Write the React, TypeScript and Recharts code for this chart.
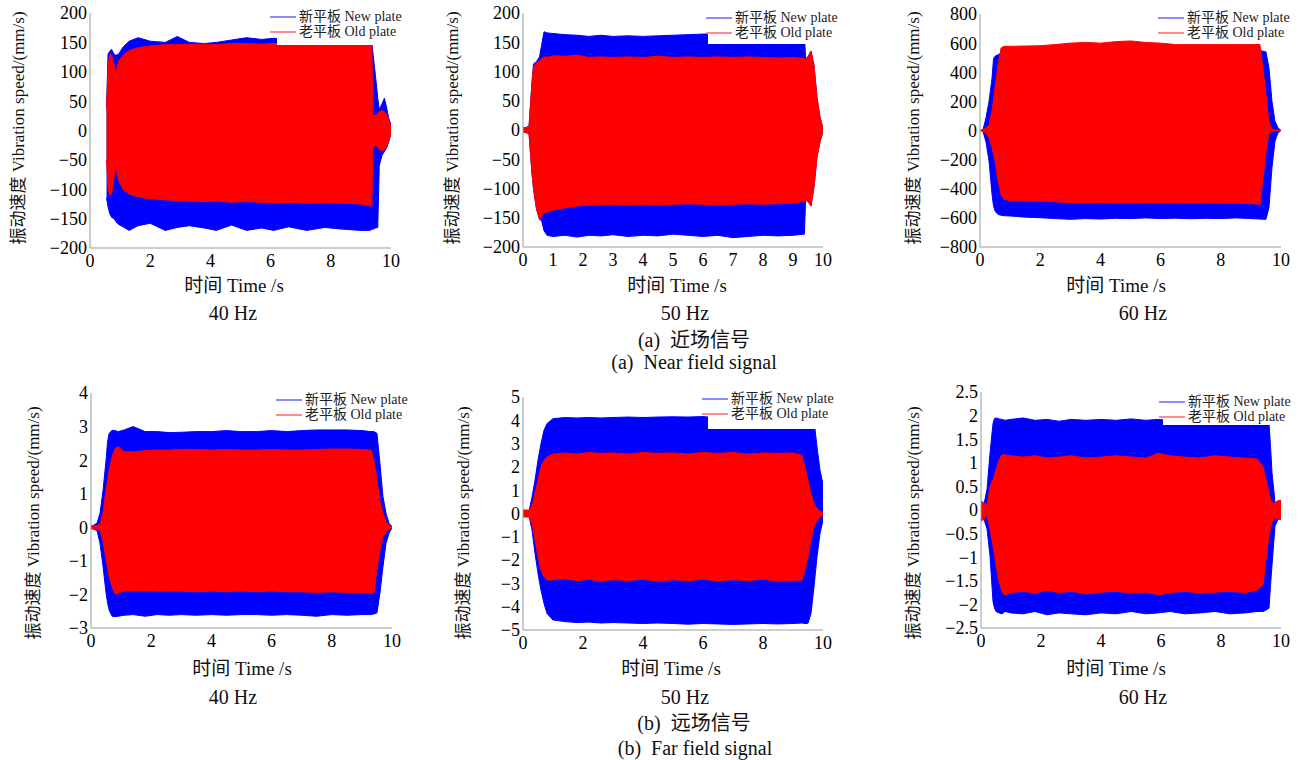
import { ComposedChart, Area, XAxis, YAxis } from "recharts";

const FONT = '"Liberation Serif", "Times New Roman", "Noto Sans CJK SC", serif';

// ---- (a) near field, 40 Hz ----
const near40T = [0.55, 0.6, 0.66, 0.72, 0.8, 0.86, 0.95, 1.1, 1.3, 1.6, 2.0, 2.5, 2.9, 3.3, 3.8, 4.2, 4.7, 5.2, 5.7, 6.1, 6.6, 7.2, 7.8, 8.4, 9.0, 9.3, 9.36, 9.4, 9.48, 9.56, 9.61, 9.7, 9.78, 9.85, 9.92, 10.0];
const near40NewHi = [40, 130, 135, 138, 130, 128, 130, 142, 152, 158, 152, 150, 160, 150, 148, 150, 154, 158, 155, 157, 155, 152, 155, 152, 155, 155, 150, 132, 95, 55, 36, 45, 55, 40, 22, 10];
const near40NewLo = [-115, -130, -142, -148, -150, -155, -160, -164, -170, -162, -158, -170, -165, -162, -166, -170, -161, -170, -166, -170, -164, -170, -165, -168, -170, -170, -168, -168, -166, -165, -60, -42, -36, -30, -20, -5];
const near40OldHi = [35, 110, 130, 128, 112, 99, 118, 128, 136, 141, 144, 146, 146, 147, 147, 146, 148, 148, 147, 148, 148, 148, 148, 148, 148, 148, 146, 25, 26, 28, 32, 34, 32, 28, 20, 5];
const near40OldLo = [-50, -100, -110, -108, -80, -60, -85, -100, -108, -113, -116, -118, -119, -120, -121, -120, -122, -121, -122, -123, -122, -124, -123, -124, -125, -128, -130, -30, -25, -28, -32, -35, -33, -28, -18, -5];

// ---- (a) near field, 50 Hz ----
const near50T = [0, 0.2, 0.3, 0.35, 0.45, 0.55, 0.62, 0.7, 0.8, 1.0, 1.4, 1.8, 2.2, 2.6, 3.0, 3.5, 4.0, 4.5, 5.0, 5.5, 6.0, 6.5, 7.0, 7.5, 8.0, 8.5, 9.0, 9.38, 9.42, 9.5, 9.6, 9.7, 9.8, 9.9, 10.0];
const near50NewHi = [3, 6, 82, 113, 117, 125, 145, 168, 166, 165, 163, 162, 160, 162, 160, 161, 160, 161, 162, 163, 164, 165, 165, 165, 165, 165, 165, 165, 122, 125, 135, 110, 55, 22, 2];
const near50NewLo = [-3, -6, -75, -100, -135, -153, -155, -172, -180, -182, -180, -183, -180, -181, -179, -182, -180, -181, -178, -180, -182, -180, -184, -182, -180, -181, -180, -178, -120, -122, -130, -97, -46, -20, -2];
const near50OldHi = [4, 5, 80, 108, 115, 118, 122, 125, 124, 127, 126, 128, 124, 125, 124, 125, 124, 126, 124, 125, 124, 125, 124, 125, 124, 123, 124, 122, 122, 125, 135, 110, 55, 22, 2];
const near50OldLo = [-4, -5, -74, -100, -135, -153, -148, -142, -140, -137, -133, -130, -128, -128, -127, -128, -127, -128, -127, -126, -127, -128, -127, -126, -127, -126, -125, -122, -120, -122, -130, -97, -46, -20, -2];

// ---- (a) near field, 60 Hz ----
const near60T = [0, 0.1, 0.2, 0.3, 0.4, 0.45, 0.5, 0.6, 0.7, 0.8, 1.0, 1.5, 2.0, 2.5, 3.0, 3.5, 4.0, 4.5, 5.0, 5.5, 6.0, 6.5, 7.0, 7.5, 8.0, 8.5, 9.0, 9.3, 9.4, 9.5, 9.6, 9.7, 9.8, 9.9, 10.0];
const near60NewHi = [0, 5, 87, 200, 361, 495, 510, 520, 530, 540, 550, 555, 560, 565, 565, 570, 570, 570, 570, 570, 570, 565, 560, 560, 560, 560, 560, 550, 545, 540, 430, 200, 64, 18, 0];
const near60NewLo = [0, -5, -80, -210, -439, -520, -553, -576, -582, -585, -587, -595, -599, -605, -610, -605, -608, -603, -605, -600, -605, -602, -606, -603, -605, -600, -605, -608, -610, -610, -530, -256, -73, -16, 0];
const near60OldHi = [0, 3, 20, 41, 133, 210, 293, 453, 567, 578, 578, 580, 582, 590, 600, 605, 600, 610, 615, 605, 600, 590, 590, 590, 590, 590, 590, 590, 430, 250, 60, 10, 5, 3, 0];
const near60OldLo = [0, -3, -20, -50, -120, -165, -210, -347, -439, -473, -480, -483, -485, -490, -495, -496, -494, -497, -498, -495, -496, -497, -498, -497, -499, -500, -502, -507, -330, -150, -20, -8, -5, -3, 0];

// ---- (b) far field, 40 Hz ----
const far40T = [0, 0.2, 0.3, 0.4, 0.5, 0.55, 0.6, 0.7, 0.8, 0.9, 1.1, 1.4, 1.8, 2.2, 2.6, 3.0, 3.5, 4.0, 4.5, 5.0, 5.5, 6.0, 6.5, 7.0, 7.5, 8.0, 8.5, 9.0, 9.3, 9.4, 9.5, 9.6, 9.7, 9.8, 9.9, 10.0];
const far40NewHi = [0.02, 0.12, 0.42, 1.1, 2.0, 2.54, 2.79, 2.89, 2.88, 2.85, 2.9, 3.0, 2.85, 2.85, 2.82, 2.83, 2.85, 2.85, 2.88, 2.85, 2.85, 2.88, 2.85, 2.88, 2.9, 2.9, 2.9, 2.88, 2.85, 2.85, 2.8, 1.9, 0.91, 0.42, 0.12, 0.02];
const far40NewLo = [-0.02, -0.1, -0.48, -1.17, -1.96, -2.25, -2.46, -2.65, -2.66, -2.65, -2.62, -2.6, -2.65, -2.6, -2.62, -2.6, -2.62, -2.6, -2.62, -2.6, -2.6, -2.62, -2.6, -2.62, -2.65, -2.6, -2.62, -2.6, -2.6, -2.58, -2.55, -1.96, -1.17, -0.48, -0.18, -0.02];
const far40OldHi = [0.05, 0.05, 0.1, 0.42, 1.1, 1.4, 1.7, 2.1, 2.35, 2.4, 2.25, 2.25, 2.28, 2.3, 2.3, 2.32, 2.32, 2.3, 2.32, 2.3, 2.3, 2.32, 2.3, 2.3, 2.32, 2.33, 2.33, 2.32, 2.3, 2.0, 1.4, 0.8, 0.42, 0.17, 0.05, 0.02];
const far40OldLo = [-0.05, -0.05, -0.1, -0.4, -0.97, -1.2, -1.47, -1.76, -2.0, -1.96, -1.9, -1.88, -1.88, -1.9, -1.9, -1.9, -1.92, -1.9, -1.92, -1.9, -1.92, -1.9, -1.92, -1.92, -1.94, -1.92, -1.94, -1.94, -1.96, -1.96, -1.27, -0.67, -0.28, -0.15, -0.05, -0.02];

// ---- (b) far field, 50 Hz ----
const far50T = [0, 0.2, 0.3, 0.4, 0.5, 0.6, 0.7, 0.8, 1.0, 1.4, 1.8, 2.2, 2.6, 3.0, 3.5, 4.0, 4.5, 5.0, 5.5, 6.0, 6.5, 7.0, 7.5, 8.0, 8.5, 9.0, 9.3, 9.4, 9.5, 9.6, 9.7, 9.8, 9.9, 10.0];
const far50NewHi = [0.1, 0.1, 0.7, 1.43, 2.29, 3.0, 3.57, 3.86, 4.07, 4.12, 4.1, 4.12, 4.1, 4.12, 4.14, 4.12, 4.14, 4.15, 4.14, 4.16, 4.1, 4.1, 4.1, 4.1, 4.1, 4.1, 4.1, 4.1, 4.1, 4.1, 4.0, 2.86, 1.86, 1.25];
const far50NewLo = [-0.1, -0.1, -0.71, -1.71, -2.57, -3.29, -3.86, -4.29, -4.57, -4.64, -4.68, -4.66, -4.7, -4.68, -4.7, -4.72, -4.7, -4.72, -4.75, -4.72, -4.74, -4.76, -4.74, -4.72, -4.74, -4.72, -4.7, -4.72, -4.71, -4.29, -3.14, -1.86, -0.86, -0.29];
const far50OldHi = [0.15, 0.15, 0.29, 0.86, 1.43, 2.0, 2.29, 2.43, 2.55, 2.6, 2.55, 2.62, 2.58, 2.6, 2.55, 2.62, 2.58, 2.6, 2.55, 2.62, 2.58, 2.62, 2.55, 2.6, 2.58, 2.6, 2.5, 2.0, 1.43, 0.86, 0.43, 0.21, 0.1, 0.05];
const far50OldLo = [-0.15, -0.15, -0.43, -1.14, -1.86, -2.43, -2.71, -2.86, -2.85, -2.8, -2.88, -2.82, -2.9, -2.84, -2.88, -2.82, -2.9, -2.84, -2.88, -2.82, -2.9, -2.84, -2.88, -2.82, -2.9, -2.86, -2.86, -2.43, -1.86, -1.14, -0.57, -0.29, -0.14, -0.05];

// ---- (b) far field, 60 Hz ----
const far60T = [0, 0.1, 0.2, 0.3, 0.4, 0.45, 0.5, 0.6, 0.7, 0.8, 1.0, 1.4, 1.8, 2.2, 2.6, 3.0, 3.5, 4.0, 4.5, 5.0, 5.5, 5.9, 6.3, 6.8, 7.3, 7.8, 8.3, 8.8, 9.2, 9.4, 9.5, 9.6, 9.65, 9.7, 9.8, 9.9, 10.0];
const far60NewHi = [0.1, 0.12, 0.44, 1.2, 1.83, 1.94, 1.95, 1.93, 1.92, 1.9, 1.92, 1.95, 1.9, 1.92, 1.88, 1.92, 1.9, 1.92, 1.9, 1.93, 1.9, 1.92, 1.9, 1.9, 1.9, 1.9, 1.9, 1.9, 1.9, 1.9, 1.9, 1.85, 1.35, 0.79, 0.16, 0.1, 0.1];
const far60NewLo = [-0.2, -0.2, -0.4, -0.97, -1.94, -2.08, -2.15, -2.18, -2.2, -2.15, -2.18, -2.2, -2.15, -2.22, -2.18, -2.2, -2.22, -2.18, -2.2, -2.15, -2.2, -2.18, -2.15, -2.2, -2.18, -2.15, -2.2, -2.18, -2.15, -2.15, -2.12, -2.08, -1.6, -1.17, -0.34, -0.2, -0.15];
const far60OldHi = [0.19, 0.15, 0.1, 0.5, 0.64, 0.75, 0.85, 1.06, 1.17, 1.17, 1.15, 1.12, 1.15, 1.1, 1.12, 1.15, 1.1, 1.12, 1.15, 1.12, 1.1, 1.2, 1.15, 1.12, 1.1, 1.15, 1.12, 1.1, 1.08, 0.92, 0.64, 0.36, 0.25, 0.15, 0.15, 0.2, 0.2];
const far60OldLo = [-0.23, -0.2, -0.1, -0.4, -0.76, -0.95, -1.17, -1.52, -1.73, -1.8, -1.75, -1.72, -1.76, -1.7, -1.75, -1.72, -1.78, -1.74, -1.72, -1.76, -1.74, -1.8, -1.75, -1.72, -1.76, -1.74, -1.72, -1.75, -1.7, -1.59, -1.03, -0.55, -0.4, -0.27, -0.15, -0.2, -0.2];

// ticks
const xTicksEven = [0, 2, 4, 6, 8, 10];
const xTicksAll = [0, 1, 2, 3, 4, 5, 6, 7, 8, 9, 10];
const yTicksNear = [-200, -150, -100, -50, 0, 50, 100, 150, 200];
const yTicksNear60 = [-800, -600, -400, -200, 0, 200, 400, 600, 800];
const yTicksFar40 = [-3, -2, -1, 0, 1, 2, 3, 4];
const yTicksFar50 = [-5, -4, -3, -2, -1, 0, 1, 2, 3, 4, 5];
const yTicksFar60 = [-2.5, -2, -1.5, -1, -0.5, 0, 0.5, 1, 1.5, 2, 2.5];

const Y_LABEL = "振动速度 Vibration speed/(mm/s)";
const X_LABEL = "时间 Time /s";

type Row = { t: number; nw: [number, number]; od: [number, number] };

function build(t: number[], nLo: number[], nHi: number[], oLo: number[], oHi: number[]): Row[] {
  return t.map((x, i) => ({ t: x, nw: [nLo[i], nHi[i]], od: [oLo[i], oHi[i]] }));
}

const fmt = (v: number) => String(v).replace("-", "\u2212");
const tickStyle = { fontSize: 18, fill: "#000", fontFamily: FONT };

function Centered({ x, y, size, children }: { x: number; y: number; size: number; children: React.ReactNode }) {
  return (
    <div
      style={{
        position: "absolute",
        left: x,
        top: y,
        transform: "translate(-50%, -50%)",
        fontSize: size,
        lineHeight: 1,
        whiteSpace: "pre",
        color: "#111",
      }}
    >
      {children}
    </div>
  );
}

type PanelProps = {
  plot: [number, number, number, number];
  data: Row[];
  xTicks: number[];
  yTicks: number[];
  freq: string;
  legendX: number;
  legendY: number;
  boxLeft: number;
  boxBottom: number;
  yLab: [number, number];
  xLab: [number, number];
  fLab: [number, number];
};

function Panel(p: PanelProps) {
  const [l, t, r, b] = p.plot;
  const YW = 60, MT = 10, MR = 15, XH = 30;
  const w = YW + (r - l) + MR;
  const h = MT + (b - t) + XH;
  const yMin = p.yTicks[0];
  const yMax = p.yTicks[p.yTicks.length - 1];
  return (
    <>
      <div style={{ position: "absolute", left: l - YW, top: t - MT }}>
        <ComposedChart width={w} height={h} data={p.data} margin={{ top: MT, right: MR, left: 0, bottom: 0 }}>
          <XAxis
            type="number"
            dataKey="t"
            domain={[0, 10]}
            ticks={p.xTicks}
            interval={0}
            height={XH}
            tickSize={4}
            tickMargin={2}
            tickLine={false}
            axisLine={{ stroke: "#9a9a9a" }}
            tick={tickStyle}
            allowDataOverflow
          />
          <YAxis
            type="number"
            domain={[yMin, yMax]}
            ticks={p.yTicks}
            interval={0}
            width={YW}
            tickSize={2}
            tickMargin={1}
            tickLine={false}
            axisLine={{ stroke: "#9a9a9a" }}
            tick={tickStyle}
            tickFormatter={fmt}
            allowDataOverflow
          />
          <Area type="linear" dataKey="nw" stroke="#0000ff" fill="#0000ff" fillOpacity={1} strokeWidth={1} dot={false} activeDot={false} isAnimationActive={false} />
          <Area type="linear" dataKey="od" stroke="#ff0000" fill="#ff0000" fillOpacity={1} strokeWidth={1} dot={false} activeDot={false} isAnimationActive={false} />
        </ComposedChart>
      </div>
      {/* white legend box lying over the traces */}
      <div
        style={{
          position: "absolute",
          left: p.boxLeft,
          top: t - 4,
          width: p.legendX + 134 - p.boxLeft,
          height: p.boxBottom - t + 4,
          background: "#fff",
        }}
      />
      {[
        { c: "#8c8cff", s: "新平板 New plate", dy: 0 },
        { c: "#ff8c8c", s: "老平板 Old plate", dy: 15 },
      ].map((e) => (
        <div key={e.s} style={{ position: "absolute", left: p.legendX, top: p.legendY + e.dy - 8, height: 16, display: "flex", alignItems: "center" }}>
          <div style={{ width: 26, height: 1.5, background: e.c }} />
          <div style={{ marginLeft: 3, fontSize: 14, lineHeight: 1, whiteSpace: "nowrap", color: "#222" }}>{e.s}</div>
        </div>
      ))}
      <div
        style={{
          position: "absolute",
          left: p.yLab[0],
          top: p.yLab[1],
          transform: "translate(-50%, -50%) rotate(-90deg)",
          fontSize: 17,
          lineHeight: 1,
          whiteSpace: "nowrap",
          color: "#111",
        }}
      >
        {Y_LABEL}
      </div>
      <Centered x={p.xLab[0]} y={p.xLab[1]} size={19}>{X_LABEL}</Centered>
      <Centered x={p.fLab[0]} y={p.fLab[1]} size={20}>{p.freq}</Centered>
    </>
  );
}

export default function App() {
  return (
    <div style={{ position: "absolute", left: 0, top: 0, width: 1304, height: 760, background: "#fff", fontFamily: FONT, overflow: "hidden" }}>
      <Panel
        plot={[90, 13, 391, 248]}
        data={build(near40T, near40NewLo, near40NewHi, near40OldLo, near40OldHi)}
        xTicks={xTicksEven}
        yTicks={yTicksNear}
        freq="40 Hz"
        legendX={270}
        legendY={17}
        boxLeft={277}
        boxBottom={45}
        yLab={[18, 128]}
        xLab={[234, 285]}
        fLab={[233, 313]}
      />
      <Panel
        plot={[523, 13, 823, 247]}
        data={build(near50T, near50NewLo, near50NewHi, near50OldLo, near50OldHi)}
        xTicks={xTicksAll}
        yTicks={yTicksNear}
        freq="50 Hz"
        legendX={706}
        legendY={18}
        boxLeft={708}
        boxBottom={44}
        yLab={[452, 128]}
        xLab={[677, 285]}
        fLab={[685, 313]}
      />
      <Panel
        plot={[980, 14, 1281, 247]}
        data={build(near60T, near60NewLo, near60NewHi, near60OldLo, near60OldHi)}
        xTicks={xTicksEven}
        yTicks={yTicksNear60}
        freq="60 Hz"
        legendX={1158}
        legendY={18}
        boxLeft={1165}
        boxBottom={43}
        yLab={[913, 128]}
        xLab={[1116, 285]}
        fLab={[1143, 313]}
      />
      <Panel
        plot={[91, 393, 392, 628]}
        data={build(far40T, far40NewLo, far40NewHi, far40OldLo, far40OldHi)}
        xTicks={xTicksEven}
        yTicks={yTicksFar40}
        freq="40 Hz"
        legendX={276}
        legendY={400}
        boxLeft={277}
        boxBottom={422}
        yLab={[33, 523]}
        xLab={[242, 668]}
        fLab={[233, 697]}
      />
      <Panel
        plot={[523, 397, 823, 630]}
        data={build(far50T, far50NewLo, far50NewHi, far50OldLo, far50OldHi)}
        xTicks={xTicksEven}
        yTicks={yTicksFar50}
        freq="50 Hz"
        legendX={702}
        legendY={399}
        boxLeft={708}
        boxBottom={429}
        yLab={[463, 523]}
        xLab={[671, 668]}
        fLab={[685, 697]}
      />
      <Panel
        plot={[981, 392, 1281, 628]}
        data={build(far60T, far60NewLo, far60NewHi, far60OldLo, far60OldHi)}
        xTicks={xTicksEven}
        yTicks={yTicksFar60}
        freq="60 Hz"
        legendX={1159}
        legendY={402}
        boxLeft={1163}
        boxBottom={425}
        yLab={[913, 523]}
        xLab={[1116, 668]}
        fLab={[1143, 697]}
      />
      <Centered x={694} y={340} size={20}>{"(a)  近场信号"}</Centered>
      <Centered x={694} y={362} size={20}>{"(a)  Near field signal"}</Centered>
      <Centered x={694} y={723} size={20}>{"(b)  远场信号"}</Centered>
      <Centered x={695} y={748} size={20}>{"(b)  Far field signal"}</Centered>
    </div>
  );
}
